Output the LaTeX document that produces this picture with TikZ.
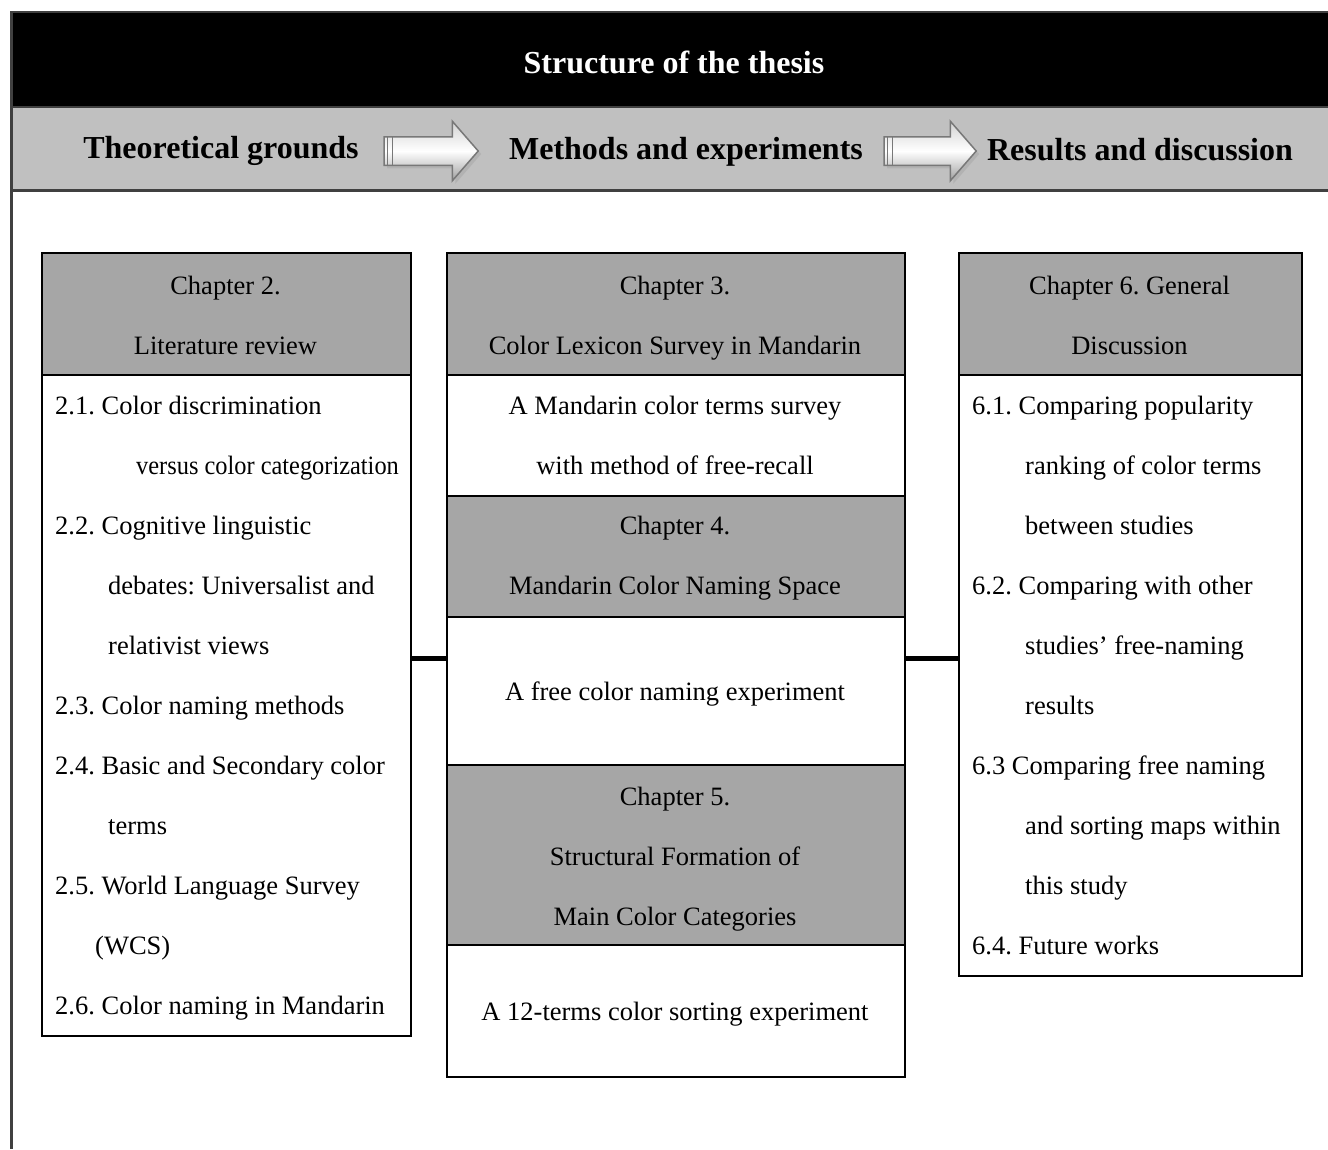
\documentclass[tikz,border=0pt]{standalone}
\usepackage{fontspec}
\setmainfont{Liberation Serif}
\usepackage{xcolor}
\usetikzlibrary{positioning, shapes.arrows, shadows, calc}
\definecolor{ThesisBand}{RGB}{192,192,192}
\definecolor{ThesisHead}{RGB}{166,166,166}
\definecolor{ThesisFrame}{RGB}{64,64,64}
\definecolor{ThesisArrow}{RGB}{120,120,120}
\frenchspacing

\begin{document}
\begin{tikzpicture}[x=1pt, y=-1pt,
    headbox/.style={draw=black, line width=2pt, fill=ThesisHead, anchor=north west, inner sep=0pt},
    bodybox/.style={draw=black, line width=2pt, fill=white, anchor=north west, inner sep=0pt},
    chaptext/.style={anchor=base, inner sep=0pt, font=\fontsize{26.5}{31}\selectfont},
    itemtext/.style={anchor=base west, inner sep=0pt, font=\fontsize{26.5}{31}\selectfont},
    bandtext/.style={anchor=base, inner sep=0pt, font=\fontsize{32}{38}\selectfont\bfseries},
    steparrow/.style={single arrow, draw=ThesisArrow, line width=1.5pt,
        inner xsep=0pt, inner ysep=13.5pt, minimum height=94pt,
        single arrow head extend=15.5pt, single arrow tip angle=98,
        top color=gray!35, bottom color=gray!75, middle color=white,
        drop shadow={shadow xshift=3pt, shadow yshift=-3pt, fill=gray!70}},
    link/.style={line width=5pt}]
\useasboundingbox (0,0) rectangle (1328,1149);

% Title bar and band
\fill[black] (10,12) rectangle (1330,107);
\fill[ThesisBand] (10,107) rectangle (1330,189);
\draw[ThesisFrame, line width=2pt] (10,12) -- (1330,12);
\draw[ThesisFrame, line width=1.5pt] (10,107) -- (1330,107);
\draw[ThesisFrame, line width=3pt] (10,190) -- (1330,190);
\draw[ThesisFrame, line width=3pt] (11.5,11) -- (11.5,1149);

\node[bandtext, text=white] (title) at (674,73) {Structure of the thesis};
\node[bandtext] (theory) at (221,158) {Theoretical grounds};
\node[bandtext] (methods) at (686,159) {Methods and experiments};
\node[bandtext] (results) at (1140,160) {Results and discussion};

% Arrows between the stages
\node[steparrow] (arr1) at (425,151) {};
\node[steparrow, minimum height=92pt] (arr2) at (924,151) {};
\foreach \a in {arr1, arr2} {
    \draw[ThesisArrow, line width=1pt] ($(\a.before tail)+(4,0)$) -- ($(\a.after tail)+(4,0)$);
    \draw[ThesisArrow, line width=1pt] ($(\a.before tail)+(9,0)$) -- ($(\a.after tail)+(9,0)$);
}

% Chapter boxes
\node[headbox, minimum width=369pt, minimum height=122pt] (litHead) at (41,252) {};
\node[bodybox, minimum width=369pt, minimum height=661pt] (litBody) at (41,374) {};
\node[headbox, minimum width=458pt, minimum height=122pt] (ch3Head) at (446,252) {};
\node[bodybox, minimum width=458pt, minimum height=121pt] (ch3Body) at (446,374) {};
\node[headbox, minimum width=458pt, minimum height=121pt] (ch4Head) at (446,495) {};
\node[bodybox, minimum width=458pt, minimum height=148pt] (ch4Body) at (446,616) {};
\node[headbox, minimum width=458pt, minimum height=180pt] (ch5Head) at (446,764) {};
\node[bodybox, minimum width=458pt, minimum height=132pt] (ch5Body) at (446,944) {};
\node[headbox, minimum width=343pt, minimum height=122pt] (ch6Head) at (958,252) {};
\node[bodybox, minimum width=343pt, minimum height=601pt] (ch6Body) at (958,374) {};

% Links
\coordinate (linkY) at (0,658);
\draw[link] (litBody.east |- linkY) -- (ch4Body.west |- linkY);
\draw[link] (ch4Body.east |- linkY) -- (ch6Body.west |- linkY);

% Chapter titles
\node[chaptext] (ch2a) at (225.5,294) {Chapter 2.};
\node[chaptext] (ch2b) at (225.5,354) {Literature review};
\node[chaptext] (ch3a) at (675,294) {Chapter 3.};
\node[chaptext] (ch3b) at (675,354) {Color Lexicon Survey in Mandarin};
\node[chaptext] (ch3c) at (675,414) {A Mandarin color terms survey};
\node[chaptext] (ch3d) at (675,474) {with method of free-recall};
\node[chaptext] (ch4a) at (675,534) {Chapter 4.};
\node[chaptext] (ch4b) at (675,594) {Mandarin Color Naming Space};
\node[chaptext] (ch4c) at (675,700) {A free color naming experiment};
\node[chaptext] (ch5a) at (675,805) {Chapter 5.};
\node[chaptext] (ch5b) at (675,865) {Structural Formation of};
\node[chaptext] (ch5c) at (675,925) {Main Color Categories};
\node[chaptext] (ch5d) at (675,1020) {A 12-terms color sorting experiment};
\node[chaptext] (ch6a) at (1129.5,294) {Chapter 6. General};
\node[chaptext] (ch6b) at (1129.5,354) {Discussion};

% Sections of chapter 2
\foreach \x/\y/\t [count=\i] in {55/414/{2.1. Color discrimination},
    55/534/{2.2. Cognitive linguistic},
    108/594/{debates: Universalist and}, 108/654/{relativist views},
    55/714/{2.3. Color naming methods}, 55/774/{2.4. Basic and Secondary color},
    108/834/{terms}, 55/894/{2.5. World Language Survey}, 95/954/{(WCS)},
    55/1014/{2.6. Color naming in Mandarin}} {
    \node[itemtext] (lit\i) at (\x,\y) {\t};
}
\node[itemtext] (litWide) at (136,474) {\scalebox{0.92}[1]{versus color categorization}};

% Sections of chapter 6
\foreach \x/\y/\t [count=\i] in {972/414/{6.1. Comparing popularity},
    1025/474/{ranking of color terms}, 1025/534/{between studies},
    972/594/{6.2. Comparing with other}, 1025/654/{studies’ free-naming},
    1025/714/{results}, 972/774/{6.3 Comparing free naming},
    1025/834/{and sorting maps within}, 1025/894/{this study},
    972/954/{6.4. Future works}} {
    \node[itemtext] (disc\i) at (\x,\y) {\t};
}
\end{tikzpicture}
\end{document}
